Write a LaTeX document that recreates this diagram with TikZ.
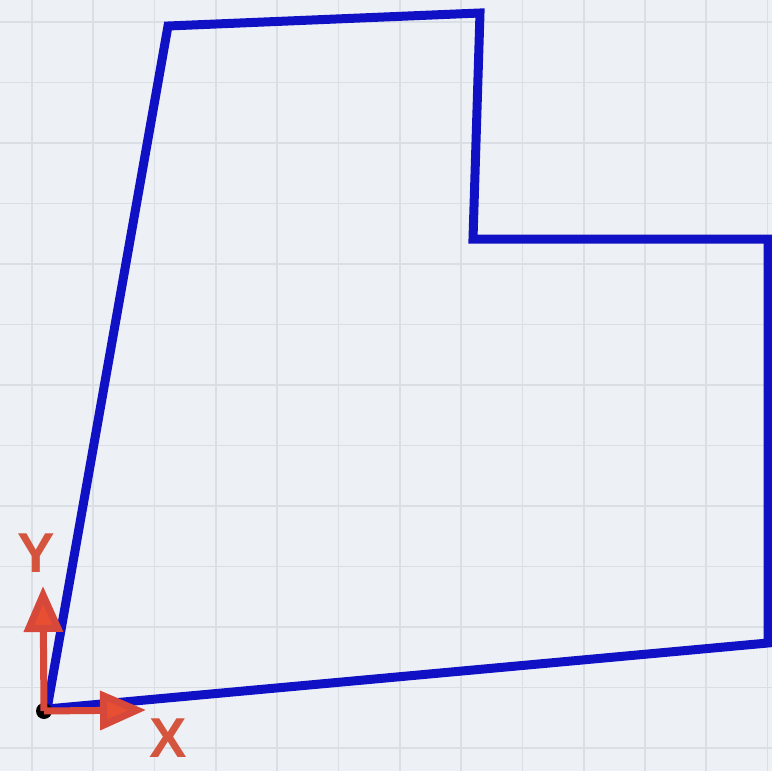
\documentclass[tikz,border=0pt]{standalone}
\usepackage{fontspec}
\setmainfont{Liberation Sans}
\usetikzlibrary{arrows.meta,positioning}

\definecolor{paper}{RGB}{237,241,245}
\definecolor{gridline}{RGB}{218,223,229}
\definecolor{outline}{RGB}{16,16,196}
\definecolor{axisred}{RGB}{232,78,50}
\definecolor{shaftred}{RGB}{214,72,58}
\definecolor{labelred}{RGB}{212,84,62}

\begin{document}
\begin{tikzpicture}[
  x=0.02cm, y=-0.02cm,
  gridrule/.style={draw=gridline, line width=1pt},
  shape outline/.style={draw=outline, line width=0.18cm, line join=miter},
  axis/.style={-{Triangle[length=0.92cm, width=0.76cm, fill=axisred]}, draw=shaftred, line width=0.14cm},
  dot/.style={circle, fill=black, inner sep=0pt, minimum size=0.32cm},
  axislabel/.style={text=labelred, font=\fontsize{32}{32}\selectfont\bfseries}
]

% page and grid
\useasboundingbox (0,0) rectangle (772,771);
\fill[paper] (0,0) rectangle (772,771);
\foreach \i in {0,...,12} {
  \draw[gridrule] ({32+61.3*\i},0) -- ({32+61.3*\i},771);
  \draw[gridrule] (0,{22+60.5*\i}) -- (772,{22+60.5*\i});
}

% outline corners
\coordinate (base) at (47,709);
\coordinate (topleft) at (168,26);
\coordinate (topright) at (480,13);
\coordinate (notch) at (473,239);
\coordinate (shoulder) at (768,239);
\coordinate (lowright) at (768,643);

\draw[shape outline] (base) -- (topleft) -- (topright) -- (notch)
  -- (shoulder) -- (lowright) -- cycle;

% frame at the origin
\node[dot] (origin) at (44,711) {};
\coordinate (ytip) at (43,586);
\coordinate (xtip) at (146,710);
\draw[axis] (origin.center) -- (ytip);
\draw[axis] (origin.center) -- (xtip);

\node[axislabel] (ylab) at (36,553) {Y};
\node[axislabel] (xlab) at (168,738) {X};

\end{tikzpicture}
\end{document}
